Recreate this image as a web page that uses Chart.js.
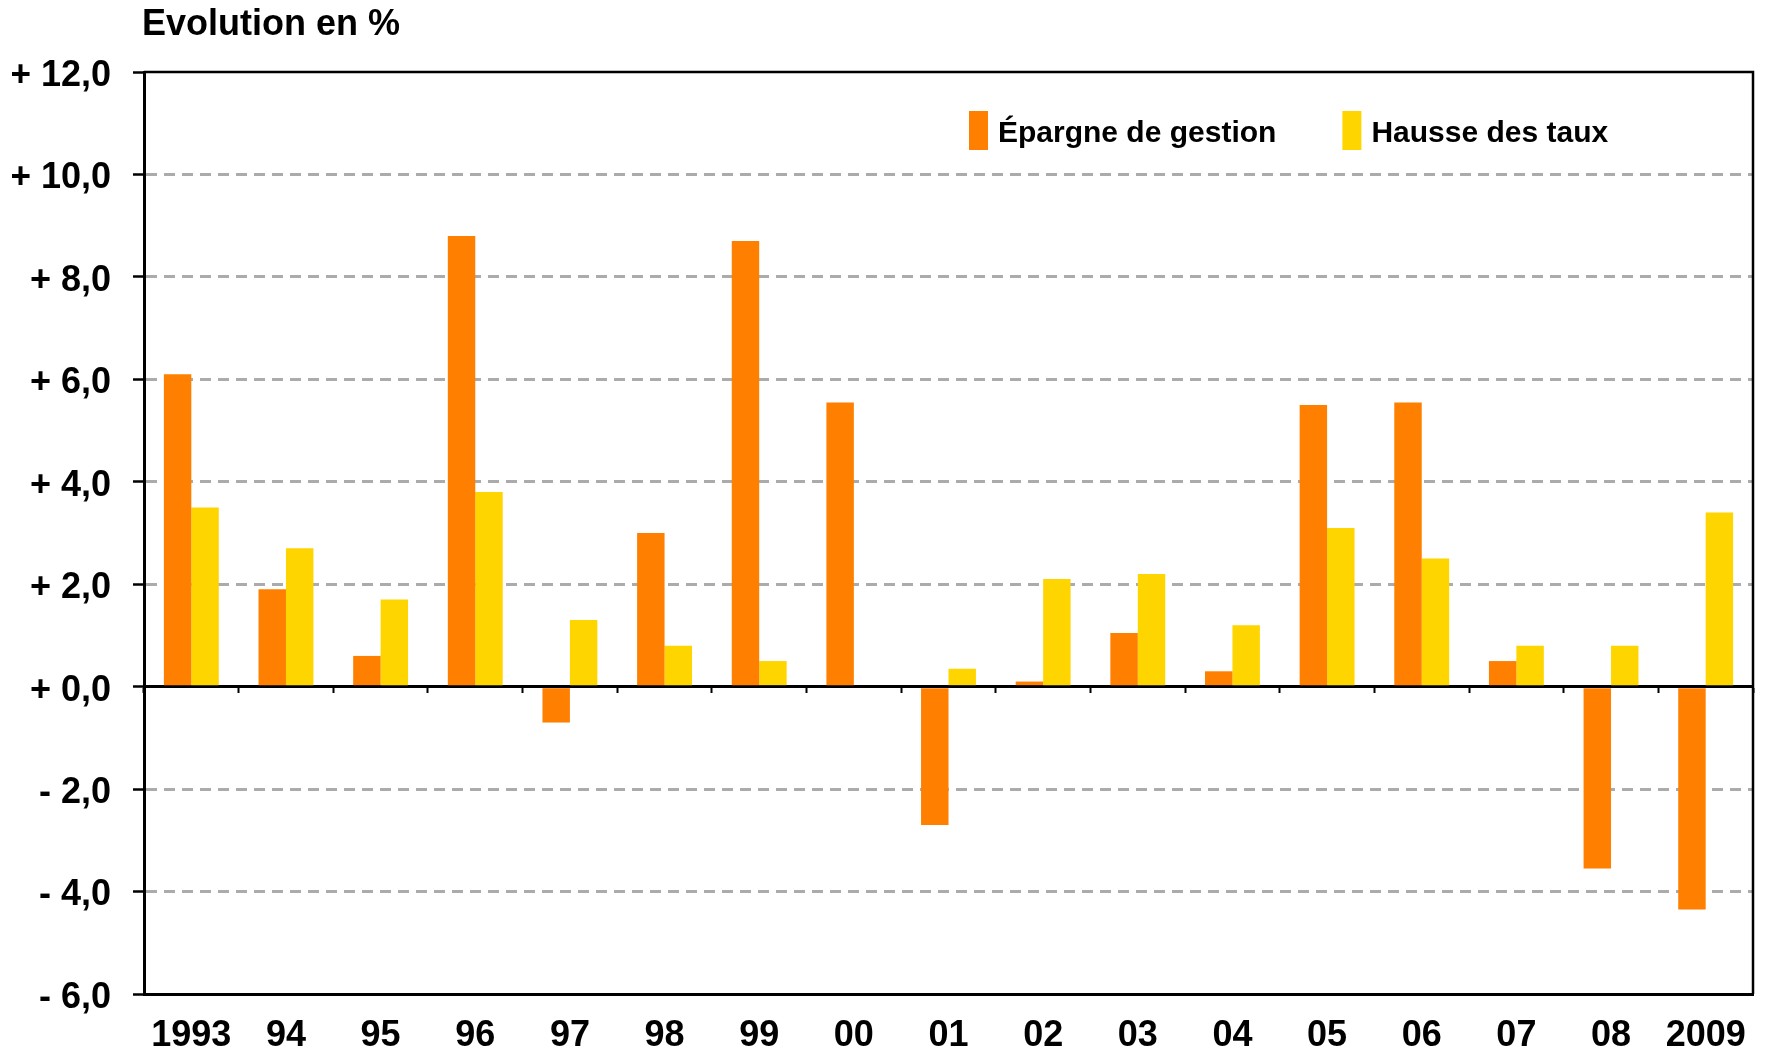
<!DOCTYPE html>
<html>
<head>
<meta charset="utf-8">
<script src="https://cdn.jsdelivr.net/npm/chart.js@4.4.0/dist/chart.umd.min.js"></script>
<style>
    html, body { margin: 0; padding: 0; background: #fff; }
    #wrap { width: 1773px; height: 1052px; position: relative; }
</style>
</head>
<body>
<div id="wrap"><canvas id="evolution"></canvas></div>
<script>
// Data
const years = ['1993', '94', '95', '96', '97', '98', '99', '00', '01', '02', '03', '04', '05', '06', '07', '08', '2009'];
const epargneGestion = [6.1, 1.9, 0.6, 8.8, -0.7, 3.0, 8.7, 5.55, -2.7, 0.1, 1.05, 0.3, 5.5, 5.55, 0.5, -3.55, -4.35];
const hausseTaux = [3.5, 2.7, 1.7, 3.8, 1.3, 0.8, 0.5, null, 0.35, 2.1, 2.2, 1.2, 3.1, 2.5, 0.8, 0.8, 3.4];
const seriesLabels = ['Épargne de gestion', 'Hausse des taux'];
const yMin = -6;
const yMax = 12;
const yStep = 2;
const title = 'Evolution en %';

const FONT = '"Liberation Sans", Arial, Helvetica, sans-serif';
const orange = '#ff7f00';
const yellow = '#ffd500';

// format y labels like "+ 12,0" / "- 4,0"
function formatTick(value) {
    const sign = value < 0 ? '- ' : '+ ';
    return sign + Math.abs(value).toFixed(1).replace('.', ',');
}

// Title, legend and frame drawn on the canvas
const decorations = {
    id: 'decorations',
    afterDraw(chart) {
        const { ctx, chartArea } = chart;
        ctx.save();

        // top and right frame lines
        ctx.strokeStyle = '#000';
        ctx.lineWidth = 2.5;
        ctx.beginPath();
        ctx.moveTo(chartArea.left, chartArea.top);
        ctx.lineTo(chartArea.right, chartArea.top);
        ctx.lineTo(chartArea.right, chartArea.bottom);
        ctx.stroke();

        // title
        ctx.fillStyle = '#000';
        ctx.font = 'bold 36px ' + FONT;
        ctx.textAlign = 'left';
        ctx.textBaseline = 'alphabetic';
        ctx.fillText(title, chartArea.left - 2, 35);

        // legend inside the plot
        ctx.font = 'bold 30px ' + FONT;
        let x = chartArea.left + 825;
        const boxTop = chartArea.top + 39;
        const baseline = chartArea.top + 70;
        chart.data.datasets.forEach(ds => {
            ctx.fillStyle = ds.backgroundColor;
            ctx.fillRect(x, boxTop, 19, 39);
            ctx.fillStyle = '#000';
            ctx.fillText(ds.label, x + 29, baseline);
            x += 29 + ctx.measureText(ds.label).width + 66;
        });
        ctx.restore();
    }
};

new Chart(document.getElementById('evolution'), {
    type: 'bar',
    data: {
        labels: years,
        datasets: [{
            label: seriesLabels[0],
            data: epargneGestion,
            backgroundColor: orange,
            borderWidth: 0,
            categoryPercentage: 0.58,
            barPercentage: 1.0
        }, {
            label: seriesLabels[1],
            data: hausseTaux,
            backgroundColor: yellow,
            borderWidth: 0,
            categoryPercentage: 0.58,
            barPercentage: 1.0
        }]
    },
    options: {
        responsive: true,
        maintainAspectRatio: false,
        animation: false,
        layout: {
            padding: { top: 72, left: 12, right: 20, bottom: 0 }
        },
        scales: {
            x: {
                position: { y: 0 },
                offset: true,
                grid: {
                    display: true,
                    drawOnChartArea: false,
                    drawTicks: true,
                    offset: true,
                    tickLength: 5,
                    tickWidth: 2,
                    tickColor: '#000'
                },
                border: { display: true, color: '#000', width: 3 },
                ticks: { display: false },
                afterFit: scale => {
                    scale.paddingLeft = 0;
                    scale.paddingRight = 0;
                }
            },
            x2: {
                type: 'category',
                labels: years,
                position: 'bottom',
                offset: true,
                grid: { display: false, drawTicks: false },
                border: { display: true, color: '#000', width: 3 },
                ticks: {
                    color: '#000',
                    font: { family: FONT, size: 36, weight: 'bold' },
                    padding: 20,
                    maxRotation: 0,
                    autoSkip: false
                },
                afterFit: scale => {
                    scale.height = 58;
                    scale.paddingLeft = 0;
                    scale.paddingRight = 0;
                }
            },
            y: {
                min: yMin,
                max: yMax,
                ticks: {
                    stepSize: yStep,
                    color: '#000',
                    padding: 22,
                    labelOffset: 4,
                    font: { family: FONT, size: 36, weight: 'bold' },
                    callback: value => formatTick(value)
                },
                grid: {
                    color: ctx => (ctx.tick && (ctx.tick.value === 0 || ctx.tick.value === yMin || ctx.tick.value === yMax)) ? 'rgba(0,0,0,0)' : '#ababab',
                    lineWidth: 3,
                    tickLength: 11,
                    tickWidth: 2.5,
                    tickColor: '#000'
                },
                border: {
                    display: true,
                    color: '#000',
                    width: 3,
                    dash: ctx => ctx.type === 'tick' ? [11, 7] : []
                },
                afterFit: scale => {
                    scale.width = 132;
                    scale.paddingTop = 0;
                    scale.paddingBottom = 0;
                }
            }
        },
        plugins: {
            legend: { display: false },
            title: { display: false },
            tooltip: { enabled: false }
        }
    },
    plugins: [decorations]
});
</script>
</body>
</html>
